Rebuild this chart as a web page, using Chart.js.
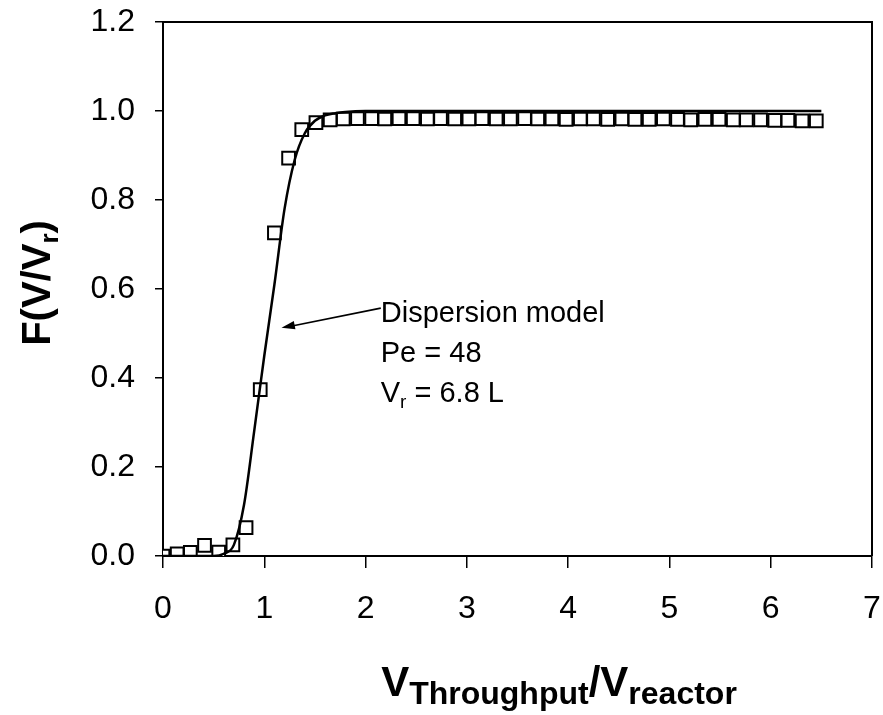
<!DOCTYPE html>
<html><head><meta charset="utf-8">
<script src="https://cdn.jsdelivr.net/npm/chart.js@4"></script>
<style>html,body{margin:0;padding:0;background:#fff}</style>
</head><body>
<canvas id="c" width="883" height="715"></canvas>
<script>
// Measured data (squares)
const measuredX = [0, 0.14, 0.27, 0.41, 0.55, 0.69, 0.82, 0.96, 1.10, 1.24, 1.37, 1.51, 1.65, 1.78, 1.92, 2.06, 2.19, 2.33, 2.47, 2.61, 2.74, 2.88, 3.02, 3.15, 3.29, 3.43, 3.57, 3.70, 3.84, 3.98, 4.12, 4.25, 4.39, 4.53, 4.66, 4.80, 4.94, 5.08, 5.21, 5.35, 5.49, 5.63, 5.76, 5.90, 6.04, 6.17, 6.31, 6.45];
const measuredF = [0.000, 0.005, 0.008, 0.024, 0.009, 0.025, 0.064, 0.374, 0.726, 0.894, 0.958, 0.974, 0.980, 0.982, 0.983, 0.983, 0.982, 0.983, 0.983, 0.982, 0.983, 0.982, 0.982, 0.983, 0.982, 0.982, 0.983, 0.982, 0.982, 0.981, 0.982, 0.982, 0.981, 0.982, 0.981, 0.981, 0.982, 0.981, 0.980, 0.981, 0.981, 0.980, 0.980, 0.980, 0.979, 0.979, 0.978, 0.978];
// Dispersion model curve
const modelX = [0, 0.3, 0.5, 0.6, 0.7, 0.8, 0.9, 1.0, 1.1, 1.2, 1.3, 1.4, 1.5, 1.6, 1.7, 1.8, 2.0, 3.0, 4.0, 5.0, 6.0, 6.5];
const modelF = [0, 0, 0, 0.005, 0.025, 0.115, 0.28, 0.45, 0.61, 0.78, 0.89, 0.95, 0.978, 0.99, 0.995, 0.998, 1.0, 1.0, 1.0, 1.0, 1.0, 1.0];
// Tick labels
const xTicks = [0, 1, 2, 3, 4, 5, 6, 7];
const yTicks = [0, 0.2, 0.4, 0.6, 0.8, 1.0, 1.2];
// Annotation text
const noteLines = ["Dispersion model", "Pe = 48", "V|r| = 6.8 L"];

const FONT = '"Liberation Sans", Arial, sans-serif';
const CH = {left: 163, right: 876, top: 22, bottom: 556};

const decor = {
  id: 'decor',
  afterDatasetsDraw(chart) {
    const ctx = chart.ctx;
    const {left, right, top, bottom} = chart.chartArea;
    const xs = chart.scales.x, ys = chart.scales.y;
    ctx.save();
    ctx.strokeStyle = '#000';
    ctx.lineWidth = 2;
    ctx.beginPath();
    ctx.moveTo(left, top); ctx.lineTo(right, top); ctx.lineTo(right, bottom);
    ctx.stroke();

    // arrow
    const x0 = xs.getPixelForValue(2.15), y0 = ys.getPixelForValue(0.557);
    const x1 = xs.getPixelForValue(1.17), y1 = ys.getPixelForValue(0.513);
    ctx.lineWidth = 1.6;
    ctx.beginPath(); ctx.moveTo(x0, y0); ctx.lineTo(x1 + 8, y1 - 1.2); ctx.stroke();
    const ang = Math.atan2(y1 - y0, x1 - x0);
    ctx.fillStyle = '#000';
    ctx.beginPath();
    ctx.moveTo(x1, y1);
    ctx.lineTo(x1 - 14 * Math.cos(ang - 0.3), y1 - 14 * Math.sin(ang - 0.3));
    ctx.lineTo(x1 - 14 * Math.cos(ang + 0.3), y1 - 14 * Math.sin(ang + 0.3));
    ctx.closePath(); ctx.fill();

    // annotation text
    ctx.textBaseline = 'alphabetic';
    ctx.textAlign = 'left';
    const tx = x0, baseY = [322, 362, 402];
    noteLines.forEach((line, i) => {
      const parts = line.split('|');
      let cx = tx;
      parts.forEach((p, j) => {
        const sub = j % 2 === 1;
        ctx.font = (sub ? '19px ' : '29px ') + FONT;
        ctx.fillText(p, cx, baseY[i] + (sub ? 6 : 0));
        cx += ctx.measureText(p).width;
      });
    });

    const drawRich = (parts, cx, cy) => {
      let w = 0;
      parts.forEach(p => { ctx.font = p.f; w += ctx.measureText(p.t).width; });
      let x = cx - w / 2;
      parts.forEach(p => { ctx.font = p.f; ctx.fillText(p.t, x, cy + p.dy); x += ctx.measureText(p.t).width; });
    };
    // y title
    ctx.save();
    ctx.translate(50, 283);
    ctx.rotate(-Math.PI / 2);
    drawRich([
      {t: 'F(V/V', f: 'bold 40px ' + FONT, dy: 0},
      {t: 'r', f: 'bold 26px ' + FONT, dy: 8},
      {t: ')', f: 'bold 40px ' + FONT, dy: 0}
    ], 0, 0);
    ctx.restore();

    // x title
    drawRich([
      {t: 'V', f: 'bold 42px ' + FONT, dy: 0},
      {t: 'Throughput', f: 'bold 32px ' + FONT, dy: 8},
      {t: '/V', f: 'bold 42px ' + FONT, dy: 0},
      {t: 'reactor', f: 'bold 32px ' + FONT, dy: 8}
    ], 559, 696);
    ctx.restore();
  }
};

const zeroPad = s => { s.paddingLeft = 0; s.paddingRight = 0; s.paddingTop = 0; s.paddingBottom = 0; };

new Chart(document.getElementById('c'), {
  type: 'scatter',
  data: {
    datasets: [
      {
        label: 'Dispersion model',
        data: modelX.map((x, i) => ({x, y: modelF[i]})),
        showLine: true,
        borderColor: '#000',
        borderWidth: 2.5,
        pointRadius: 0,
        cubicInterpolationMode: 'monotone',
        order: 0
      },
      {
        label: 'Measured',
        data: measuredX.map((x, i) => ({x, y: measuredF[i]})),
        showLine: false,
        pointStyle: 'rect',
        pointRadius: 9,
        pointBorderWidth: 2,
        pointBorderColor: '#000',
        pointBackgroundColor: '#fff',
        order: 1
      }
    ]
  },
  options: {
    responsive: false,
    animation: false,
    devicePixelRatio: 1,
    layout: {padding: {left: 0, right: 883 - CH.right, top: CH.top, bottom: 0}},
    plugins: {legend: {display: false}, tooltip: {enabled: false}},
    scales: {
      x: {
        type: 'linear', min: 0, max: 7,
        afterBuildTicks: s => { s.ticks = xTicks.map(v => ({value: v})); },
        afterFit: s => { s.height = 715 - CH.bottom; zeroPad(s); },
        ticks: {color: '#000', font: {family: FONT, size: 32}, padding: 22, maxRotation: 0,
                callback: v => String(v)},
        grid: {drawOnChartArea: false, drawTicks: true, tickLength: 12, color: '#000', lineWidth: 1.5},
        border: {display: true, color: '#000', width: 2}
      },
      y: {
        type: 'linear', min: 0, max: 1.2,
        afterBuildTicks: s => { s.ticks = yTicks.map(v => ({value: v})); },
        afterFit: s => { s.width = CH.left; zeroPad(s); },
        ticks: {color: '#000', font: {family: FONT, size: 32}, padding: 20,
                callback: v => Number(v).toFixed(1)},
        grid: {drawOnChartArea: false, drawTicks: true, tickLength: 8, color: '#000', lineWidth: 1.5},
        border: {display: true, color: '#000', width: 2}
      }
    }
  },
  plugins: [decor]
});
</script>
</body></html>
